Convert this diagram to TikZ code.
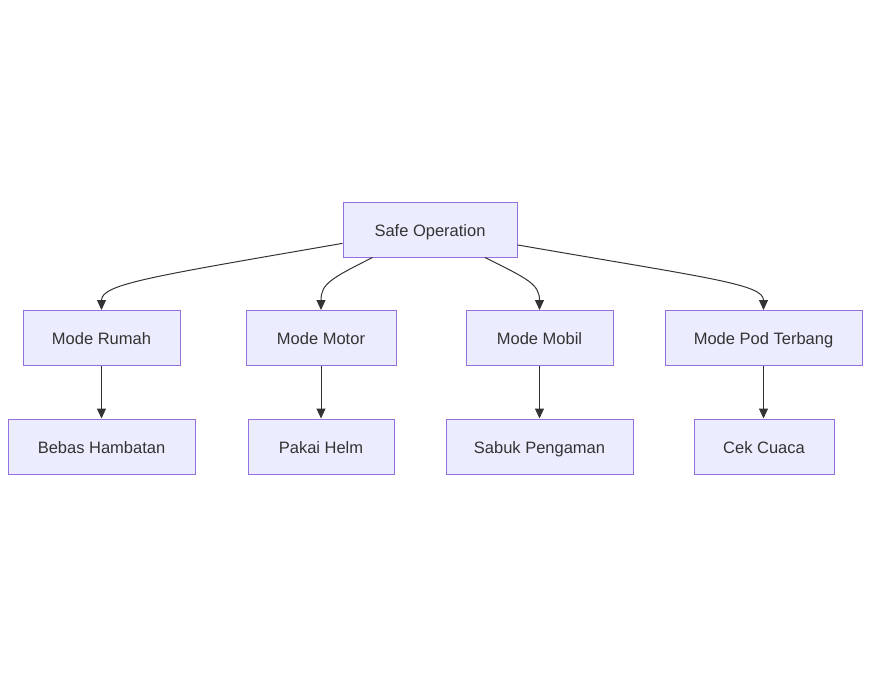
\documentclass[tikz,border=0pt]{standalone}
\usepackage{fontspec}
\setmainfont{Liberation Sans}
\usetikzlibrary{arrows.meta}

\definecolor{boxfill}{HTML}{ECECFF}
\definecolor{boxline}{HTML}{9370DB}
\definecolor{edgeline}{HTML}{333333}

\begin{document}
\begin{tikzpicture}[x=1pt, y=-1pt,
  box/.style={draw=boxline, fill=boxfill, line width=1pt, rectangle,
    minimum height=55pt, inner sep=0pt, text=edgeline,
    text height=14pt, text depth=1pt,
    font=\fontsize{16.5}{19}\selectfont},
  link/.style={draw=edgeline, line width=1pt,
    -{Triangle[length=10pt, width=9pt]}}]

  % --- Canvas ---
  \useasboundingbox (0,0) rectangle (871,677);

  % --- Root node ---
  \node[box, minimum width=174pt] (safe) at (430,229.5) {Safe Operation};

  % --- Mode nodes ---
  \node[box, minimum width=157pt] (rumah) at (101.5,338) {Mode Rumah};
  \node[box, minimum width=150pt] (motor) at (321,338) {Mode Motor};
  \node[box, minimum width=147pt] (mobil) at (539.5,338) {Mode Mobil};
  \node[box, minimum width=197pt] (pod) at (763.5,338) {Mode Pod Terbang};

  % --- Safety nodes ---
  \node[box, minimum width=187pt] (bebas) at (101.5,446.5) {Bebas Hambatan};
  \node[box, minimum width=146pt] (helm) at (321,446.5) {Pakai Helm};
  \node[box, minimum width=187pt] (sabuk) at (539.5,446.5) {Sabuk Pengaman};
  \node[box, minimum width=140pt] (cuaca) at (764,446.5) {Cek Cuaca};

  % --- Curved links from root ---
  \draw[link] (safe.189.5) .. controls +(-190,33) and +(0,-26) .. (rumah.north);
  \draw[link] (safe.206.6) .. controls +(-42,21) and +(0,-26) .. (motor.north);
  \draw[link] (safe.333.4) .. controls +(42,21) and +(0,-26) .. (mobil.north);
  \draw[link] (safe.350.5) .. controls +(190,33) and +(0,-26) .. (pod.north);

  % --- Straight links ---
  \draw[link] (rumah) -- (bebas);
  \draw[link] (motor) -- (helm);
  \draw[link] (mobil) -- (sabuk);
  \draw[link] (pod.south) -- (pod.south |- cuaca.north);

\end{tikzpicture}
\end{document}
